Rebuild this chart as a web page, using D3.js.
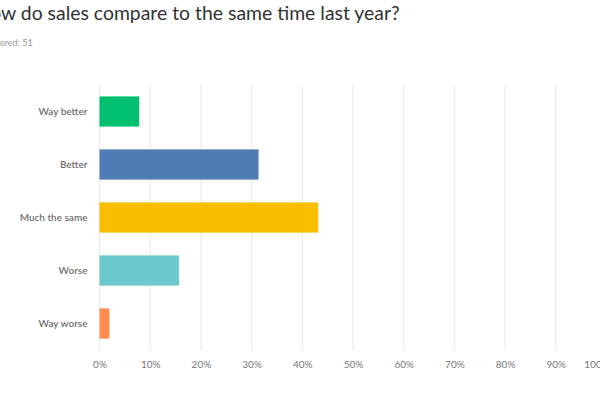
<!DOCTYPE html>
<html>
<head>
<meta charset="utf-8">
<script src="https://cdn.jsdelivr.net/npm/d3@7"></script>
<style>
  body { margin: 0; background: #fff; }
  svg { display: block; font-family: Lato, "Open Sans", sans-serif; }
</style>
</head>
<body>
<svg id="chart" width="600" height="400"></svg>
<script>
const categories = ["Way better", "Better", "Much the same", "Worse", "Way worse"];
const percents = [7.84, 31.37, 43.14, 15.69, 1.96];
const barColors = ["#00bf6f", "#507cb6", "#f9be00", "#6bc8cd", "#ff8b4f"];
const tickValues = [0, 10, 20, 30, 40, 50, 60, 70, 80, 90, 100];

const svg = d3.select("#chart");

// Dimensions
const margin = { top: 85, left: 99.5, bottom: 50 };
const plotWidth = 507;
const plotHeight = 400 - margin.top - margin.bottom;

const x = d3.scaleLinear().domain([0, 100]).range([0, plotWidth]);
const y = d3.scaleBand().domain(categories).range([0, plotHeight]).paddingInner(0.43).paddingOuter(0.215);

// Title (cropped on the left, as in the screenshot)
const title = svg.append("text")
    .attr("y", 20)
    .attr("fill", "#333")
    .style("font-size", "19.4px")
    .text("How do sales compare to the same time last year?");
const titleCut = title.node().getSubStringLength(0, 2);
title.attr("x", 1 - titleCut);

const sub = svg.append("text")
    .attr("y", 46)
    .attr("fill", "#9a9a9a")
    .style("font-size", "9px")
    .text("Answered: 51");
const subCut = sub.node().getSubStringLength(0, 4);
sub.attr("x", 0 - subCut);

const g = svg.append("g")
    .attr("transform", "translate(" + margin.left + "," + margin.top + ")");

// Gridlines
g.selectAll(".grid")
    .data(tickValues)
    .enter()
    .append("line")
    .attr("x1", d => x(d))
    .attr("x2", d => x(d))
    .attr("y1", 0)
    .attr("y2", plotHeight)
    .attr("stroke", "#e9e9ec")
    .attr("stroke-width", 1);

// Bars
g.selectAll(".bar")
    .data(categories)
    .enter()
    .append("rect")
    .attr("x", 0)
    .attr("y", d => y(d))
    .attr("width", (d, i) => x(percents[i]))
    .attr("height", y.bandwidth())
    .attr("fill", (d, i) => barColors[i]);

// Category axis
const yAxis = g.append("g")
    .call(d3.axisLeft(y).tickSize(0).tickPadding(12));
yAxis.select(".domain").remove();
yAxis.selectAll("text")
    .attr("fill", "#6f6f6f")
    .style("font-size", "10px")
    .style("font-weight", "600")
    .style("font-family", "Lato, 'Open Sans', sans-serif");

// Percent axis
const xAxis = g.append("g")
    .attr("transform", "translate(0," + plotHeight + ")")
    .call(d3.axisBottom(x).tickValues(tickValues).tickSize(0).tickPadding(11).tickFormat(d => d + "%"));
xAxis.select(".domain").remove();
xAxis.selectAll("text")
    .attr("fill", "#777")
    .style("font-size", "10px")
    .style("font-family", "Lato, 'Open Sans', sans-serif");
xAxis.selectAll(".tick").filter(d => d === 100).select("text").attr("dx", -10);
</script>
</body>
</html>
